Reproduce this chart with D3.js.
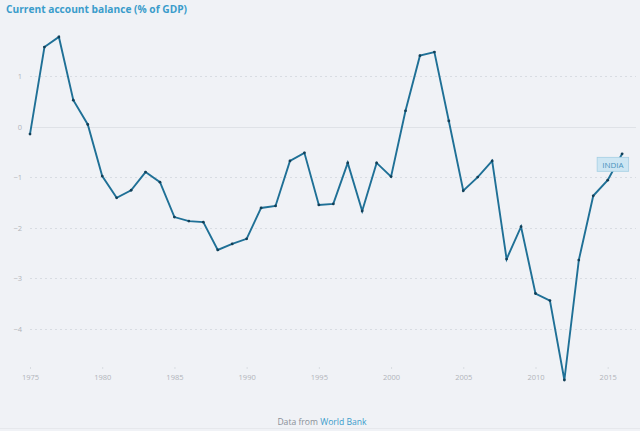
<!DOCTYPE html>
<html><head><meta charset="utf-8">
<script src="https://cdn.jsdelivr.net/npm/d3@7"></script>
<style>
html,body{margin:0;padding:0;background:#f0f2f6;}
svg{display:block;font-family:"Open Sans",sans-serif;}
</style></head>
<body>
<svg id="c" width="640" height="431"></svg>
<script>
const years = d3.range(1975, 2017);
const values = [-0.15, 1.57, 1.77, 0.52, 0.04, -0.98, -1.41, -1.26, -0.90, -1.10,
  -1.79, -1.87, -1.89, -2.44, -2.32, -2.22, -1.61, -1.57, -0.68, -0.52,
  -1.55, -1.53, -0.72, -1.67, -0.72, -0.99, 0.31, 1.40, 1.47, 0.11,
  -1.27, -1.00, -0.68, -2.62, -1.98, -3.30, -3.44, -5.01, -2.64, -1.37,
  -1.06, -0.54];
const yTicks = [1, 0, -1, -2, -3, -4];
const xTicks = [1975, 1980, 1985, 1990, 1995, 2000, 2005, 2010, 2015];
const seriesLabel = "INDIA";
const title = "Current account balance (% of GDP)";

const svg = d3.select("#c");
const x = d3.scaleLinear().domain([1975, 2015]).range([30, 607.7]);
const y = d3.scaleLinear().domain([0, 1]).range([126.5, 75.9]);

svg.append("rect").attr("width", 640).attr("height", 431).attr("fill", "#f0f2f6");
svg.append("line").attr("x1", 0).attr("x2", 640).attr("y1", 428.5).attr("y2", 428.5)
  .attr("stroke", "#e6e8ec").attr("stroke-width", 1);

// title
svg.append("text").attr("x", 6).attr("y", 13).text(title)
  .attr("font-size", 10.2).attr("font-weight", 700).attr("fill", "#3a9ccb");

// grid
const gy = svg.append("g");
yTicks.forEach(t => {
  gy.append("line").attr("x1", 30).attr("x2", 636)
    .attr("y1", Math.round(y(t)) + 0.5).attr("y2", Math.round(y(t)) + 0.5)
    .attr("stroke", t === 0 ? "#dfe2e7" : "#d8dce2")
    .attr("stroke-width", 1)
    .attr("stroke-dasharray", t === 0 ? null : "2,3");
  gy.append("text").attr("x", 22).attr("y", y(t) + 3)
    .attr("text-anchor", "end").attr("font-size", 7.5).attr("fill", "#b0b4ba")
    .text(d3.format("d")(t));
});

// x axis
const xa = d3.axisBottom(x).tickValues(xTicks).tickFormat(d3.format("d")).tickSize(2).tickPadding(6);
const gx = svg.append("g").attr("transform", "translate(0,367)").call(xa);
gx.select(".domain").remove();
gx.selectAll(".tick line").attr("stroke", "#d8dce1");
gx.selectAll(".tick text").attr("font-size", 7.5).attr("fill", "#b0b4ba").attr("font-family", "Open Sans");

// line
const data = years.map((yr, i) => ({yr, v: values[i]}));
const line = d3.line().x(d => x(d.yr)).y(d => y(d.v));
svg.append("path").datum(data).attr("d", line)
  .attr("fill", "none").attr("stroke", "#1f7096").attr("stroke-width", 1.9)
  .attr("stroke-linejoin", "miter");
svg.append("g").selectAll("circle").data(data).join("circle")
  .attr("cx", d => x(d.yr)).attr("cy", d => y(d.v)).attr("r", 1.4)
  .attr("fill", "#123f57");

// label
const last = data[data.length - 1];
const lx = x(last.yr) - 25, ly = y(last.v) + 3.5;
svg.append("rect").attr("x", lx).attr("y", ly).attr("width", 31.5).attr("height", 14)
  .attr("fill", "#cde6f3").attr("stroke", "#a5cfe4").attr("stroke-width", 0.8);
svg.append("text").attr("x", lx + 15.75).attr("y", ly + 10.2).attr("text-anchor", "middle")
  .attr("font-size", 8).attr("fill", "#4a93bd").text(seriesLabel);

// footer
const ft = svg.append("text").attr("x", 322).attr("y", 424.5).attr("text-anchor", "middle")
  .attr("font-size", 8.6);
ft.append("tspan").attr("fill", "#8a8f96").text("Data from ");
ft.append("tspan").attr("fill", "#3a9ccb").text("World Bank");
</script>
</body></html>
